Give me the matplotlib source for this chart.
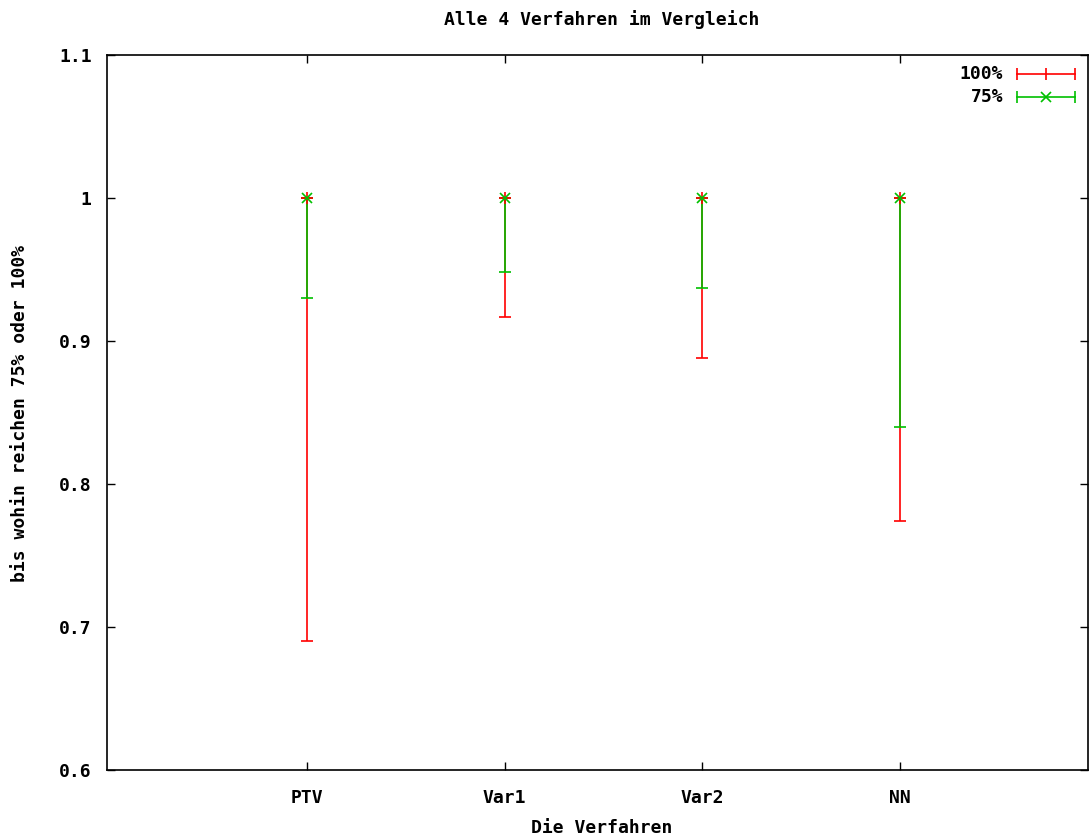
import numpy as np
import matplotlib.pyplot as plt

# Data: upper end is always 1.0, lower ends for the 100% and 75% ranges
verfahren = ["PTV", "Var1", "Var2", "NN"]
oben = [1.0, 1.0, 1.0, 1.0]
unten_100 = [0.69, 0.917, 0.888, 0.774]
unten_75 = [0.93, 0.948, 0.937, 0.84]

y_ticks = [0.6, 0.7, 0.8, 0.9, 1.0, 1.1]
y_labels = ["0.6", "0.7", "0.8", "0.9", "1", "1.1"]

plt.rcParams['font.family'] = ['DejaVu Sans Mono']
plt.rcParams['font.weight'] = 'bold'
plt.rcParams['font.size'] = 13

rot = "#ff0000"
gruen = "#00c000"

W, H = 1091, 838
fig = plt.figure(figsize=(W / 100, H / 100), dpi=100)
ax = fig.add_axes([107 / W, (H - 770) / H, 981 / W, 715 / H])

x = np.arange(1, len(verfahren) + 1)
oben = np.array(oben)

# Error bars from the lower value up to 1.0
ax.errorbar(x, oben, yerr=[oben - np.array(unten_100), np.zeros(len(x))],
            fmt='+', color=rot, ecolor=rot, elinewidth=1.2, capsize=4.5,
            capthick=1.2, markersize=8, markeredgewidth=1.2)
ax.errorbar(x, oben, yerr=[oben - np.array(unten_75), np.zeros(len(x))],
            fmt='x', color=gruen, ecolor=gruen, elinewidth=1.2, capsize=4.5,
            capthick=1.2, markersize=7, markeredgewidth=1.2)

ax.set_xlim(-0.0116, 4.95)
ax.set_ylim(0.6, 1.1)
ax.set_xticks(x)
ax.set_xticklabels(verfahren)
ax.set_yticks(y_ticks)
ax.set_yticklabels(y_labels)
ax.tick_params(direction='in', length=6, width=1, top=True, right=True)
ax.tick_params(axis='y', pad=11)
ax.tick_params(axis='x', pad=14)

for s in ax.spines.values():
    s.set_linewidth(1.2)

fig.text(602 / W, 1 - 20 / H, "Alle 4 Verfahren im Vergleich",
         ha='center', va='center', fontsize=13, fontweight='bold')
fig.text(602 / W, 1 - 828 / H, "Die Verfahren",
         ha='center', va='center', fontsize=13, fontweight='bold')
fig.text(20 / W, 1 - 413 / H, "bis wohin reichen 75% oder 100%", rotation=90,
         ha='center', va='center', fontsize=13, fontweight='bold')

# gnuplot-like key in the upper right corner
def key_eintrag(y, text, farbe, marker, ms):
    x0, x1 = (1017 - 107) / 981, (1075 - 107) / 981
    xm = (x0 + x1) / 2
    ax.text((1003 - 107) / 981, y, text, transform=ax.transAxes, ha='right',
            va='center', fontsize=13, fontweight='bold')
    ax.plot([x0, x1], [y, y], transform=ax.transAxes, color=farbe, lw=1.2,
            clip_on=False)
    ax.plot([x0, x1], [y, y], transform=ax.transAxes, color=farbe, ls='none',
            marker='|', markersize=8, markeredgewidth=1.2, clip_on=False)
    ax.plot([xm], [y], transform=ax.transAxes, color=farbe, ls='none',
            marker=marker, markersize=ms, markeredgewidth=1.2, clip_on=False)

key_eintrag((770 - 74) / 715, "100%", rot, '|', 8)
key_eintrag((770 - 97) / 715, "75%", gruen, 'x', 7)

fig.savefig("out.png", dpi=100)
